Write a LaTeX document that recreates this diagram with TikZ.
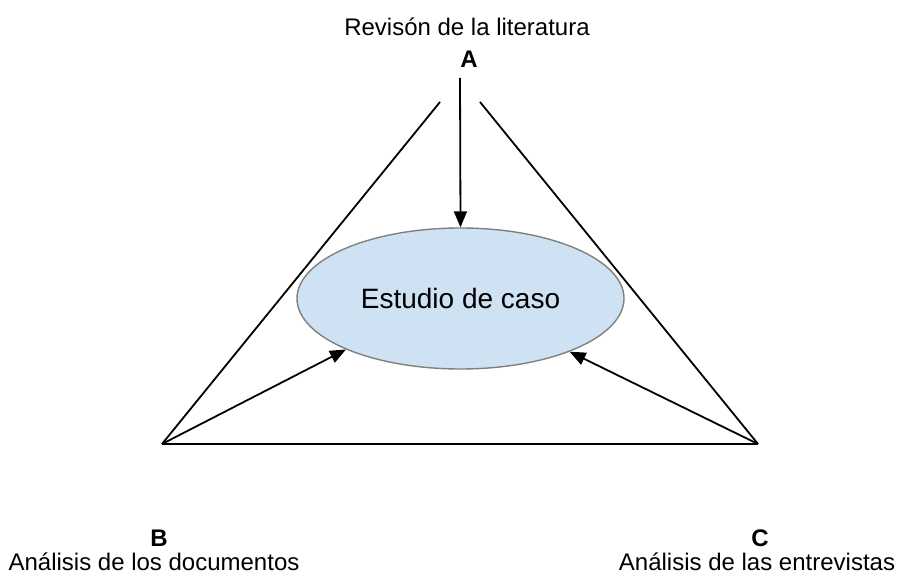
\documentclass[tikz,border=0pt]{standalone}
\usepackage{fontspec}
\setmainfont{Liberation Sans}
\usetikzlibrary{shapes.geometric,arrows.meta}
\definecolor{casofill}{HTML}{CFE2F3}
\definecolor{casoline}{HTML}{808080}
\begin{document}
\begin{tikzpicture}[x=0.5pt,y=-0.5pt,
	lado/.style={line width=0.9pt},
	flecha/.style={line width=0.9pt,-{Triangle[length=8pt,width=6.5pt]}},
	texto/.style={anchor=base,inner sep=0pt,font=\fontsize{12}{14}\selectfont},
	letra/.style={texto,font=\fontsize{12}{14}\selectfont\bfseries}]
			\useasboundingbox (0,0) rectangle (898,581);
			\coordinate (bl) at (162,444);
			\coordinate (br) at (758,444);
			\coordinate (tl) at (440,102);
			\coordinate (tr) at (480,102);
			\coordinate (apex) at (460,78);
			\draw[lado] (bl)--(tl);
			\draw[lado] (br)--(tr);
			\draw[lado] (bl)--(br);
			\node[ellipse,draw=casoline,fill=casofill,line width=0.7pt,inner sep=0pt,minimum width=163.5pt,minimum height=70.5pt,font=\fontsize{14}{16}\selectfont] (caso) at (460.5,298.5) {Estudio de caso};
			\node[texto] (rev) at (467,36) {Revisón de la literatura};
			\node[letra] (A) at (469,68) {A};
			\node[letra] (B) at (159,546) {B};
			\node[texto] (doc) at (154,570) {Análisis de los documentos};
			\node[letra] (C) at (760,546) {C};
			\node[texto] (ent) at (757,570) {Análisis de las entrevistas};
			\draw[flecha] (apex)--(caso.north);
			\draw[flecha] (bl)--(caso.204);
			\draw[flecha] (br)--(caso.334);
			\end{tikzpicture}
\end{document}
